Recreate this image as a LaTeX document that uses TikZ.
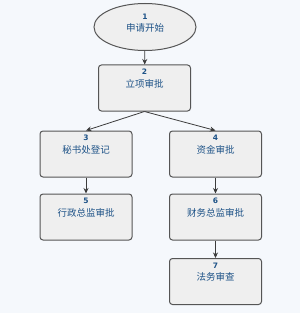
\documentclass[tikz,border=0pt]{standalone}
\usepackage{fontspec}
\setmainfont{Noto Sans CJK SC}
\newfontfamily\numfont{DejaVu Sans}
\usetikzlibrary{shapes.geometric,arrows.meta}
\definecolor{bgblue}{HTML}{F5F8FC}
\definecolor{boxgray}{HTML}{EFEFEF}
\definecolor{edgegray}{HTML}{555555}
\definecolor{txtblue}{HTML}{1D5287}
\newcommand\stepno[2]{{\numfont\bfseries\fontsize{7.5}{9}\selectfont #1}\\#2}
\begin{document}
\begin{tikzpicture}[
  x=1pt, y=-1pt,
  font=\fontsize{9.5}{12.5}\selectfont,
  lab/.style={anchor=north,align=center,text=txtblue,inner sep=0pt,yshift=-4.5pt},
  task/.style={draw=edgegray,fill=boxgray,line width=1pt,rounded corners=3pt,
    minimum width=92pt,minimum height=46pt,label={[lab]north:#1}},
  startnode/.style={ellipse,draw=edgegray,fill=boxgray,line width=1pt,
    minimum width=102pt,minimum height=47pt,label={[lab,yshift=-6pt]north:#1}},
  link/.style={draw=edgegray!70!black,line width=0.8pt,
    -{Stealth[length=5.5pt,width=5pt]}}]
\path[use as bounding box,fill=bgblue] (0,0) rectangle (300,313);
% nodes
\node[startnode={\stepno{1}{申请开始}}] (apply) at (145,27) {};
\node[task={\stepno{2}{立项审批}}] (setup) at (144.5,88) {};
\node[task={\stepno{3}{秘书处登记}}] (secr) at (86,154) {};
\node[task={\stepno{4}{资金审批}}] (fund) at (215.5,154) {};
\node[task={\stepno{5}{行政总监审批}}] (admin) at (86,217) {};
\node[task={\stepno{6}{财务总监审批}}] (finance) at (215.5,217) {};
\node[task={\stepno{7}{法务审查}}] (legal) at (215.5,281.5) {};
% links
\draw[link] (apply) -- (setup);
\draw[link] (setup.south) -- (secr.north);
\draw[link] (setup.south) -- (fund.north);
\draw[link] (secr) -- (admin);
\draw[link] (fund) -- (finance);
\draw[link] (finance) -- (legal);
\end{tikzpicture}
\end{document}
